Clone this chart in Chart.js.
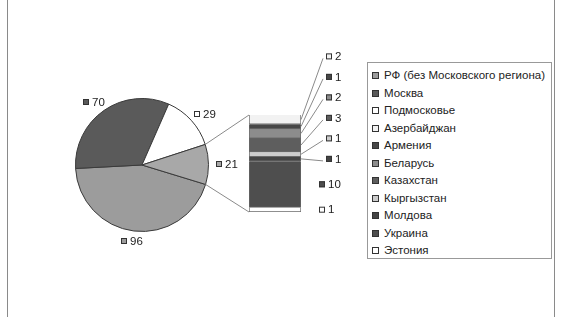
<!DOCTYPE html>
<html>
<head>
<meta charset="utf-8">
<script src="https://cdn.jsdelivr.net/npm/chart.js@4.4.0/dist/chart.umd.min.js"></script>
<style>
body { margin: 0; background: #fff; }
#wrap { position: relative; width: 580px; height: 317px; overflow: hidden; font-family: "Liberation Sans", Arial, sans-serif; }
#wrap canvas { position: absolute; left: 0; top: 0; }
#frame { position: absolute; left: 7px; top: -2px; width: 546px; height: 321px; border-left: 1px solid #8a8a8a; border-right: 1px solid #8a8a8a; }
#legend { position: absolute; left: 367px; top: 62px; width: 185px; height: 197px; box-sizing: border-box; border: 1px solid #999; padding: 4px 0 0 4px; font-size: 11.5px; color: #222; background: #fff; }
#legend div { height: 17.5px; line-height: 17.5px; white-space: nowrap; }
#legend span { display: inline-block; width: 5px; height: 5px; border: 1px solid #333; margin-right: 5px; vertical-align: 0px; }
</style>
</head>
<body>
<div id="wrap">
  <div id="frame"></div>
  <canvas id="pie" width="580" height="317"></canvas>
  <canvas id="bar" width="580" height="317"></canvas>
  <div id="legend"></div>
</div>
<script>
// pie part: three regions + "other" (sum of the countries in the bar)
const pieLabels = ['РФ (без Московского региона)', 'Москва', 'Подмосковье'];
const pieValues = [96, 70, 29];
const pieColors = ['#9c9c9c', '#5a5a5a', '#ffffff', '#a8a8a8'];

// bar part, top to bottom
const barLabels = ['Азербайджан', 'Армения', 'Беларусь', 'Казахстан', 'Кыргызстан', 'Молдова', 'Украина', 'Эстония'];
const barValues = [2, 1, 2, 3, 1, 1, 10, 1];
const barColors = ['#f2f2f2', '#474747', '#8c8c8c', '#5e5e5e', '#cccccc', '#444444', '#4e4e4e', '#ffffff'];

const otherTotal = barValues.reduce((a, b) => a + b, 0);
const FONT = '11.5px "Liberation Sans", Arial, sans-serif';

function drawTag(ctx, x, y, color, text) {
    // small coloured square + value, x = left of square, y = middle
    ctx.fillStyle = color;
    ctx.fillRect(x, y - 3, 6, 6);
    ctx.strokeStyle = '#333';
    ctx.lineWidth = 1;
    ctx.strokeRect(x + 0.5, y - 2.5, 5, 5);
    ctx.fillStyle = '#222';
    ctx.font = FONT;
    ctx.textBaseline = 'middle';
    ctx.textAlign = 'left';
    ctx.fillText(text, x + 9, y + 0.5);
}

const pieLabelPlugin = {
    id: 'pieLabels',
    afterDatasetsDraw(chart) {
        const ctx = chart.ctx;
        const ds = chart.data.datasets[0];
        ctx.save();
        ctx.font = FONT;
        chart.getDatasetMeta(0).data.forEach((arc, i) => {
            const p = arc.getProps(['x', 'y', 'startAngle', 'endAngle', 'outerRadius'], true);
            const mid = (p.startAngle + p.endAngle) / 2;
            const dx = Math.cos(mid), dy = Math.sin(mid);
            const text = String(ds.data[i]);
            const bw = 9 + ctx.measureText(text).width, bh = 12;
            const cx = p.x + dx * p.outerRadius + dx * (8 + bw / 2);
            const cy = p.y + dy * p.outerRadius + dy * (4 + bh / 2);
            drawTag(ctx, Math.round(cx - bw / 2), Math.round(cy), ds.backgroundColor[i], text);
        });
        ctx.restore();
    }
};

const pieChart = new Chart(document.getElementById('pie'), {
    type: 'pie',
    data: {
        labels: [...pieLabels, 'Другие'],
        datasets: [{
            data: [...pieValues, otherTotal],
            backgroundColor: pieColors,
            borderColor: '#3a3a3a',
            borderWidth: 1
        }]
    },
    options: {
        responsive: false,
        animation: false,
        rotation: 107,
        layout: { padding: { left: 73, right: 369, top: 98, bottom: 85 } },
        plugins: { legend: { display: false }, tooltip: { enabled: false } }
    },
    plugins: [pieLabelPlugin]
});

const barExtrasPlugin = {
    id: 'barExtras',
    afterDatasetsDraw(chart) {
        const ctx = chart.ctx;
        const yScale = chart.scales.y;
        const first = chart.getDatasetMeta(0).data[0];
        const left = first.x - first.width / 2;
        const right = first.x + first.width / 2;
        const top = yScale.getPixelForValue(0);
        const bottom = yScale.getPixelForValue(otherTotal);

        ctx.save();
        // connector lines from the "other" slice to the bar
        const arc = pieChart.getDatasetMeta(0).data[3].getProps(['x', 'y', 'startAngle', 'endAngle', 'outerRadius'], true);
        ctx.strokeStyle = '#8a8a8a';
        ctx.lineWidth = 1;
        ctx.beginPath();
        ctx.moveTo(arc.x + arc.outerRadius * Math.cos(arc.startAngle), arc.y + arc.outerRadius * Math.sin(arc.startAngle));
        ctx.lineTo(left, top);
        ctx.moveTo(arc.x + arc.outerRadius * Math.cos(arc.endAngle), arc.y + arc.outerRadius * Math.sin(arc.endAngle));
        ctx.lineTo(left, bottom);
        ctx.stroke();

        // value labels; the ones above the biggest segment are fanned out with leaders
        const biggest = barValues.indexOf(Math.max(...barValues));
        let prevY = Infinity;
        for (let i = barLabels.length - 1; i >= 0; i--) {
            const el = chart.getDatasetMeta(i).data[0];
            const mid = (el.y + el.base) / 2;
            if (i >= biggest) {
                drawTag(ctx, right + 18, mid, barColors[i], String(barValues[i]));
                prevY = mid;
            } else {
                const y = Math.min(mid, prevY - 20.5);
                ctx.strokeStyle = '#8a8a8a';
                ctx.beginPath();
                ctx.moveTo(right, mid);
                ctx.lineTo(right + 22, y + 2);
                ctx.stroke();
                drawTag(ctx, right + 25, y, barColors[i], String(barValues[i]));
                prevY = y;
            }
        }
        ctx.restore();
    }
};

new Chart(document.getElementById('bar'), {
    type: 'bar',
    data: {
        labels: [''],
        datasets: barLabels.map((l, i) => ({
            label: l,
            data: [barValues[i]],
            backgroundColor: barColors[i],
            borderColor: '#6a6a6a',
            borderWidth: 1,
            barPercentage: 1,
            categoryPercentage: 1
        }))
    },
    options: {
        responsive: false,
        animation: false,
        layout: { padding: { left: 249, right: 279, top: 115, bottom: 105 } },
        scales: {
            x: { stacked: true, display: false },
            y: { stacked: true, display: false, reverse: true, min: 0, max: otherTotal }
        },
        plugins: { legend: { display: false }, tooltip: { enabled: false } }
    },
    plugins: [barExtrasPlugin]
});

// legend: regions of the pie, then countries of the bar
const legendEl = document.getElementById('legend');
[...pieLabels, ...barLabels].forEach((name, i) => {
    const color = i < pieLabels.length ? pieColors[i] : barColors[i - pieLabels.length];
    const row = document.createElement('div');
    const sw = document.createElement('span');
    sw.style.background = color;
    row.appendChild(sw);
    row.appendChild(document.createTextNode(name));
    legendEl.appendChild(row);
});
</script>
</body>
</html>
